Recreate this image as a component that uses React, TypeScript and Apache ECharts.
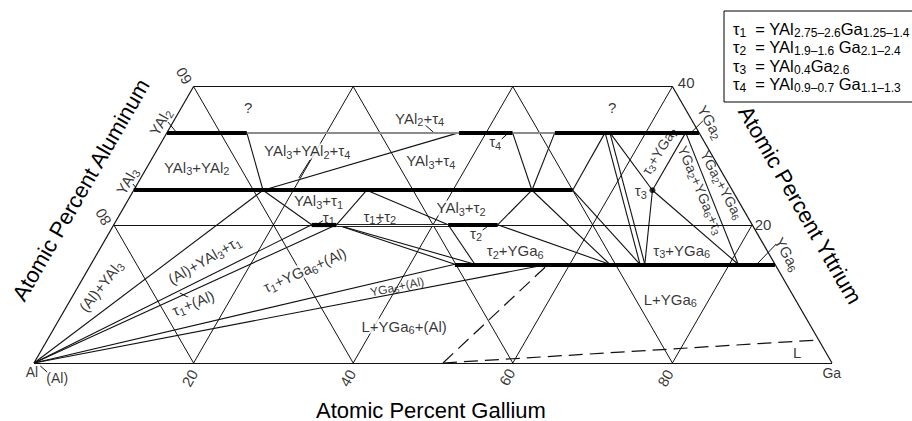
import React, { useEffect, useRef } from "react";
import * as echarts from "echarts";

// Every point is a composition: [at.% Ga, at.% Y] (Al = 100 - Ga - Y)
type T = [number, number];

const Y_YAL2 = 100 / 3;
const Y_YAL3 = 25;
const Y_TAU = 20;
const Y_YGA6 = 100 / 7;

const FRAME: [T, T][] = [
  [[0, 0], [100, 0]],
  [[0, 0], [0, 40]],
  [[100, 0], [60, 40]],
  [[0, 40], [60, 40]],
];

const GRID: [T, T][] = [
  [[20, 0], [20, 40]],
  [[40, 0], [40, 40]],
  [[60, 0], [60, 40]],
  [[80, 0], [80, 20]],
  [[20, 0], [0, 20]],
  [[40, 0], [0, 40]],
  [[60, 0], [20, 40]],
  [[80, 0], [40, 40]],
  [[0, 20], [80, 20]],
];

// single-phase (homogeneity) ranges, drawn heavy
const PHASES: [T, T][] = [
  [[0, Y_YAL2], [10.0, Y_YAL2]], // YAl2
  [[36.6, Y_YAL2], [43.3, Y_YAL2]], // tau4
  [[48.6, Y_YAL2], [66.67, Y_YAL2]], // YGa2
  [[0, Y_YAL3], [55.0, Y_YAL3]], // YAl3
  [[24.8, Y_TAU], [27.9, Y_TAU]], // tau1
  [[41.9, Y_TAU], [48.1, Y_TAU]], // tau2
  [[45.6, Y_YGA6], [85.71, Y_YGA6]], // YGa6
];

const TWO_PHASE_GREY: [T, T][] = [
  [[10.0, Y_YAL2], [36.6, Y_YAL2]],
  [[43.3, Y_YAL2], [48.6, Y_YAL2]],
];

const TWO_PHASE_HOLLOW: [T, T][] = [[[27.9, Y_TAU], [41.9, Y_TAU]]];

const TIE_LINES: [T, T][] = [
  [[0, 0], [16.2, Y_YAL3]],
  [[0, 0], [24.8, Y_TAU]],
  [[0, 0], [27.9, Y_TAU]],
  [[0, 0], [45.6, Y_YGA6]],
  [[0, 0], [57.3, Y_YGA6]],
  [[10.0, Y_YAL2], [16.2, Y_YAL3]],
  [[16.2, Y_YAL3], [36.6, Y_YAL2]],
  [[16.2, Y_YAL3], [24.8, Y_TAU]],
  [[29.2, Y_YAL3], [27.9, Y_TAU]],
  [[29.2, Y_YAL3], [41.9, Y_TAU]],
  [[27.9, Y_TAU], [45.6, Y_YGA6]],
  [[27.9, Y_TAU], [48.1, Y_YGA6]],
  [[41.9, Y_TAU], [48.1, Y_YGA6]],
  [[48.1, Y_TAU], [49.9, Y_YAL3]],
  [[48.1, Y_TAU], [65.0, Y_YGA6]],
  [[49.9, Y_YAL3], [43.3, Y_YAL2]],
  [[49.9, Y_YAL3], [48.6, Y_YAL2]],
  [[49.9, Y_YAL3], [65.0, Y_YGA6]],
  [[55.0, Y_YAL3], [54.9, Y_YAL2]],
  [[55.0, Y_YAL3], [68.8, Y_YGA6]],
  [[54.9, Y_YAL2], [68.8, Y_YGA6]],
  [[55.5, Y_YAL2], [69.4, Y_YGA6]],
  [[55.5, Y_YAL2], [65, Y_YAL3]],
  [[65, Y_YAL3], [69.4, Y_YGA6]],
  [[65, Y_YAL3], [65.0, Y_YAL2]],
  [[65, Y_YAL3], [81.1, Y_YGA6]],
  [[65.0, Y_YAL2], [81.1, Y_YGA6]],
];

const LIQUIDUS_DASHED: [T, T][] = [
  [[51.25, 0], [57.3, Y_YGA6]],
  [[51.25, 0], [96.6, 3.33]],
];

const TAU3_POINT: T[] = [[65, Y_YAL3]];

const LEADERS: [T, T][] = [
  [[-0.65, 34.87], [1.1, 33.43]],
  [[-0.55, 25.9], [0.5, 25.03]],
  [[65.6, 33.14], [66.3, 35.02]],
  [[83.5, 14.47], [84.4, 17.22]],
  [[31.8, 34.44], [33.3, 33.43]],
  [[19.9, 29.37], [19.8, 26.77]],
  [[42.4, 32.41], [42.8, 33.28]],
  [[25.9, 20.6], [25.3, 19.85]],
  [[32.8, 19.82], [33.3, 20.55]],
  [[46.6, 19.24], [47.0, 19.82]],
  [[1.0, -0.43], [2.3, -1.3]],
  [[13.2, 10.13], [14.8, 9.41]],
];

// [text, Ga, Y, rotation (deg), font size, white knock-out]
type Lab = [string, number, number, number, number, boolean];
const FIELD_LABELS: Lab[] = [
  ["?", 8.4, 36.9, 0, 15, true],
  ["?", 54.0, 36.9, 0, 15, true],
  ["YAl[2]+τ[4]", 30.6, 35.45, 0, 15, true],
  ["YAl[3]+YAl[2]+τ[4]", 18.9, 30.68, 0, 15, true],
  ["YAl[3]+YAl[2]", 6.2, 28.36, 0, 15, true],
  ["YAl[3]+τ[4]", 35.1, 29.23, 0, 15, true],
  ["τ[4]", 41.8, 31.98, 0, 15, false],
  ["YAl[3]+τ[1]", 23.9, 23.5, 0, 15, false],
  ["τ[1]", 26.4, 21.1, 0, 15, false],
  ["τ[1]+τ[2]", 32.7, 21.27, 0, 15, false],
  ["YAl[3]+τ[2]", 42.3, 22.43, 0, 15, true],
  ["τ[2]", 46.0, 18.81, 0, 15, false],
  ["τ[2]+YGa[6]", 52.2, 16.21, 0, 15, true],
  ["(Al)+YAl[3]", 2.8, 11.14, 52, 15, true],
  ["(Al)+YAl[3]+τ[1]", 13.9, 14.9, 30, 15, true],
  ["τ[1]+(Al)", 15.6, 8.68, 22, 15, true],
  ["τ[1]+YGa[6]+(Al)", 27.2, 13.46, 24, 15, true],
  ["YGa[6]+(Al)", 40.0, 11.0, 12, 12, false],
  ["L+YGa[6]+(Al)", 43.7, 5.35, 0, 15, true],
  ["L+YGa[6]", 75.1, 9.26, 0, 15, true],
  ["L", 94.9, 1.45, 0, 15, false],
  ["τ[3]+YGa[6]", 73.0, 16.35, 0, 15, true],
  ["τ[3]", 63.6, 24.89, 0, 15, false],
  ["τ[3]+YGa[2]", 63.0, 30.68, 58, 14, false],
  ["YGa[2]+YGa[6]+τ[3]", 71.0, 25.03, -67, 14, false],
  ["YGa[2]+YGa[6]", 73.3, 25.76, -62, 14, false],
  ["YGa[2]", 67.3, 34.87, -60, 15, false],
  ["YGa[6]", 86.5, 15.77, -60, 15, false],
  ["YAl[2]", -1.6, 34.87, 60, 15, false],
  ["YAl[3]", -1.5, 26.33, 60, 15, false],
];

const TICK_LABELS: Lab[] = [
  ["20", 20.6, -2.17, 60, 15, false],
  ["40", 40.4, -2.17, 60, 15, false],
  ["60", 60.3, -2.03, 60, 15, false],
  ["80", 80.2, -2.17, 60, 15, false],
  ["80", -1.9, 21.13, 120, 15, false],
  ["60", -2.0, 41.53, 120, 15, false],
  ["40", 61.4, 40.66, 0, 15, false],
  ["20", 81.3, 20.11, 0, 15, false],
  ["Al", 0.4, -1.3, 0, 14, false],
  ["(Al)", 4.0, -2.17, 0, 14, false],
  ["Ga", 100.7, -1.45, 0, 14, false],
];

const LEGEND_LINES: string[] = [
  "τ[1]  = YAl[2.75–2.6]Ga[1.25–1.4]",
  "τ[2]  = YAl[1.9–1.6] Ga[2.1–2.4]",
  "τ[3]  = YAl[0.4]Ga[2.6]",
  "τ[4]  = YAl[0.9–0.7] Ga[1.1–1.3]",
];

const AXIS_TITLES = {
  ga: "Atomic Percent Gallium",
  al: "Atomic Percent Aluminum",
  y: "Atomic Percent Yttrium",
};

const FONT = "'Liberation Sans', Arial, Helvetica, sans-serif";
const H = Math.sqrt(3) / 2;
const toXY = (p: T): [number, number] => [p[0] + p[1] / 2, p[1] * H];

function richText(s: string): string {
  const parts = s.split(/\[([^\]]*)\]/);
  let out = "";
  parts.forEach((p, i) => {
    if (!p) return;
    out += i % 2 === 0 ? `{n|${p}}` : `{s|${p}}`;
  });
  return out;
}
function richStyles(fs: number) {
  const sub = Math.round(fs * 0.74);
  const pad = Math.round(fs * 0.5);
  return {
    n: { fontSize: fs, lineHeight: fs, fontFamily: FONT, color: "#000" },
    s: { fontSize: sub, lineHeight: sub, fontFamily: FONT, color: "#000", padding: [pad, 0, 0, 0] },
  };
}
const LEGEND_RICH = {
  n: { fontSize: 16.5, lineHeight: 16, fontFamily: FONT, color: "#000" },
  s: { fontSize: 12, lineHeight: 10, fontFamily: FONT, color: "#000", padding: [8, 0, 0, 0] },
};

function linesSeries(data: [T, T][], width: number, color: string, z: number, type: any = "solid") {
  return {
    type: "lines",
    coordinateSystem: "cartesian2d",
    polyline: false,
    silent: true,
    clip: false,
    z,
    lineStyle: { color, width, type, opacity: 1, curveness: 0, cap: "butt" },
    data: data.map(([a, b]) => ({ coords: [toXY(a), toXY(b)] })),
  };
}

function labelSeries(labels: Lab[], z: number) {
  return {
    type: "scatter",
    silent: true,
    clip: false,
    z,
    symbolSize: 0,
    data: labels.map(([t, ga, y, rot, fs, bg]) => ({
      value: toXY([ga, y]),
      label: {
        show: true,
        position: "inside",
        align: "center",
        verticalAlign: "middle",
        rotate: rot,
        formatter: () => richText(t),
        rich: richStyles(fs),
        color: "#000",
        backgroundColor: bg ? "#fff" : "transparent",
        padding: bg ? [0, 1, 0, 1] : 0,
      },
    })),
  };
}

export default function App() {
  const ref = useRef<HTMLDivElement>(null);
  useEffect(() => {
    document.body.style.margin = "0";
    const chart = echarts.init(ref.current!, null, { renderer: "svg" });
    const legendTexts = LEGEND_LINES.map((l, i) => ({
      type: "text",
      x: 733,
      y: 29 + i * 18.3,
      z: 21,
      style: { text: richText(l), rich: LEGEND_RICH, verticalAlign: "middle", align: "left" },
    }));
    chart.setOption({
      animation: false,
      backgroundColor: "#fff",
      grid: { left: 34, top: 363 - 319.2, width: 798, height: 319.2 },
      xAxis: { type: "value", min: 0, max: 100, show: false },
      yAxis: { type: "value", min: 0, max: 40, show: false },
      series: [
        linesSeries(GRID, 1, "#111", 1),
        linesSeries(FRAME, 1.2, "#111", 2),
        linesSeries(TIE_LINES, 1.1, "#111", 3),
        linesSeries(LEADERS, 1, "#111", 3),
        linesSeries(LIQUIDUS_DASHED, 1.2, "#111", 3, [14, 7]),
        linesSeries(TWO_PHASE_GREY, 2, "#8c8c8c", 4),
        linesSeries(TWO_PHASE_HOLLOW, 3.2, "#222", 4),
        linesSeries(TWO_PHASE_HOLLOW, 1.1, "#fff", 5),
        linesSeries(PHASES, 4.2, "#000", 6),
        labelSeries(FIELD_LABELS, 10),
        labelSeries(TICK_LABELS, 10),
        {
          type: "scatter",
          silent: true,
          z: 12,
          symbolSize: 6,
          itemStyle: { color: "#000" },
          data: TAU3_POINT.map((p) => toXY(p)),
        },
      ],
      graphic: [
        {
          type: "rect",
          shape: { x: 724, y: 11, width: 200, height: 91 },
          style: { fill: "#fff", stroke: "#000", lineWidth: 1 },
          z: 20,
        },
        ...legendTexts,
        {
          type: "text",
          x: 431,
          y: 410,
          style: { text: AXIS_TITLES.ga, fontSize: 22, fontFamily: FONT, fill: "#000", align: "center", verticalAlign: "middle" },
        },
        {
          type: "text",
          x: 81,
          y: 190,
          rotation: Math.PI / 3,
          style: { text: AXIS_TITLES.al, fontSize: 22, fontFamily: FONT, fill: "#000", align: "center", verticalAlign: "middle" },
        },
        {
          type: "text",
          x: 800,
          y: 205,
          rotation: -Math.PI / 3,
          style: { text: AXIS_TITLES.y, fontSize: 22, fontFamily: FONT, fill: "#000", align: "center", verticalAlign: "middle" },
        },
      ],
    });
    return () => chart.dispose();
  }, []);
  return <div ref={ref} style={{ width: 912, height: 421, background: "#fff" }} />;
}
